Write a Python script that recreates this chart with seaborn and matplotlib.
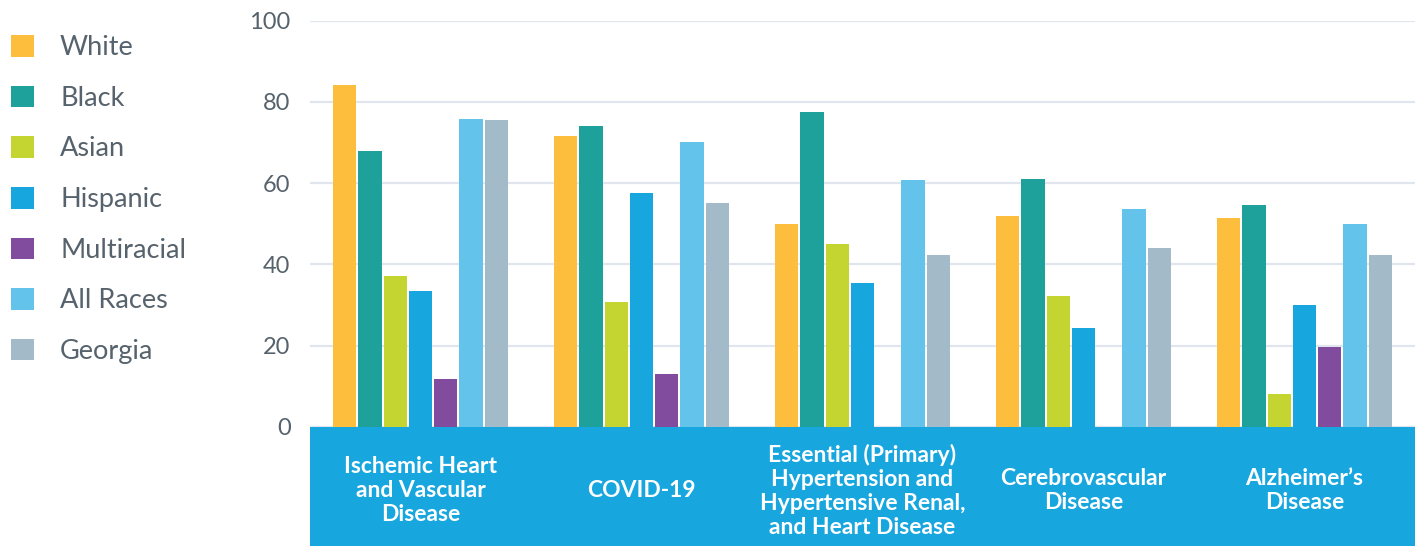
import numpy as np
import pandas as pd
import matplotlib
matplotlib.use("Agg")
import matplotlib.pyplot as plt
from matplotlib.patches import Rectangle
import seaborn as sns

# Causes of death (x categories)
causes = [
    "Ischemic Heart\nand Vascular\nDisease",
    "COVID-19",
    "Essential (Primary)\nHypertension and\nHypertensive Renal,\nand Heart Disease",
    "Cerebrovascular\nDisease",
    "Alzheimer\u2019s\nDisease",
]

groups = ["White", "Black", "Asian", "Hispanic", "Multiracial", "All Races", "Georgia"]

# Rates per group, one value per cause (NaN = not reported)
white = [84.1, 71.5, 50.0, 52.0, 51.3]
black = [67.8, 74.0, 77.5, 60.9, 54.7]
asian = [37.0, 30.8, 45.1, 32.3, 8.1]
hispanic = [33.5, 57.5, 35.5, 24.4, 30.0]
multiracial = [11.8, 13.0, np.nan, np.nan, 19.7]
all_races = [75.7, 70.0, 60.7, 53.7, 50.0]
georgia = [75.5, 55.2, 42.4, 44.1, 42.4]

yticks = [0, 20, 40, 60, 80, 100]

series = [white, black, asian, hispanic, multiracial, all_races, georgia]
rows = []
for g, vals in zip(groups, series):
    for c, v in zip(causes, vals):
        rows.append({"cause": c, "group": g, "rate": v})
df = pd.DataFrame(rows)

palette = {
    "White": "#FDBD3D",
    "Black": "#1FA19B",
    "Asian": "#C4D531",
    "Hispanic": "#18A6DF",
    "Multiracial": "#814C9E",
    "All Races": "#64C3EB",
    "Georgia": "#A3BAC8",
}

sns.set_theme(style="white")
plt.rcParams["font.family"] = ["Lato", "DejaVu Sans"]

text_gray = "#56626C"
band_blue = "#18A6DF"

fig = plt.figure(figsize=(14.21, 5.46), dpi=100)
ax = fig.add_axes([310 / 1421, 119.3 / 546, (1415 - 310) / 1421, 406 / 546])

sns.barplot(
    data=df, x="cause", y="rate", hue="group",
    order=causes, hue_order=groups, palette=palette,
    errorbar=None, width=0.8, gap=0.08, saturation=1,
    linewidth=0, ax=ax,
)

ax.set_ylim(0, 100)
ax.set_xlim(-0.5, 4.5)
ax.set_yticks(yticks)
ax.set_yticklabels([str(t) for t in yticks])
ax.yaxis.grid(True, color="#E1E6EE", linewidth=1.6)
ax.set_axisbelow(True)
for s in ax.spines.values():
    s.set_visible(False)
ax.set_xlabel("")
ax.set_ylabel("")

ax.tick_params(axis="y", length=0, pad=14, labelsize=17, labelcolor=text_gray)
ax.tick_params(axis="x", length=0, pad=46, labelsize=16.5, labelcolor="white")
for lbl in ax.get_xticklabels():
    lbl.set_va("center")
    lbl.set_fontweight("bold")
    lbl.set_linespacing(1.18)
    lbl.set_multialignment("center")

# Blue band beneath the x axis holding the category names
band = Rectangle((0, -119.3 / 406), 1, 119.3 / 406, transform=ax.transAxes,
                 facecolor=band_blue, edgecolor="none", clip_on=False, zorder=0)
ax.add_patch(band)

sns.move_legend(
    ax, "upper left", bbox_to_anchor=(11 / 1421, 1 - 35 / 546),
    bbox_transform=fig.transFigure, frameon=False, title=None,
    fontsize=19.5, handlelength=0.85, handleheight=0.85,
    handletextpad=0.96, labelspacing=0.94, borderpad=0, borderaxespad=0,
)
for t in ax.get_legend().get_texts():
    t.set_color(text_gray)

fig.savefig("out.png", dpi=100, facecolor="white")
